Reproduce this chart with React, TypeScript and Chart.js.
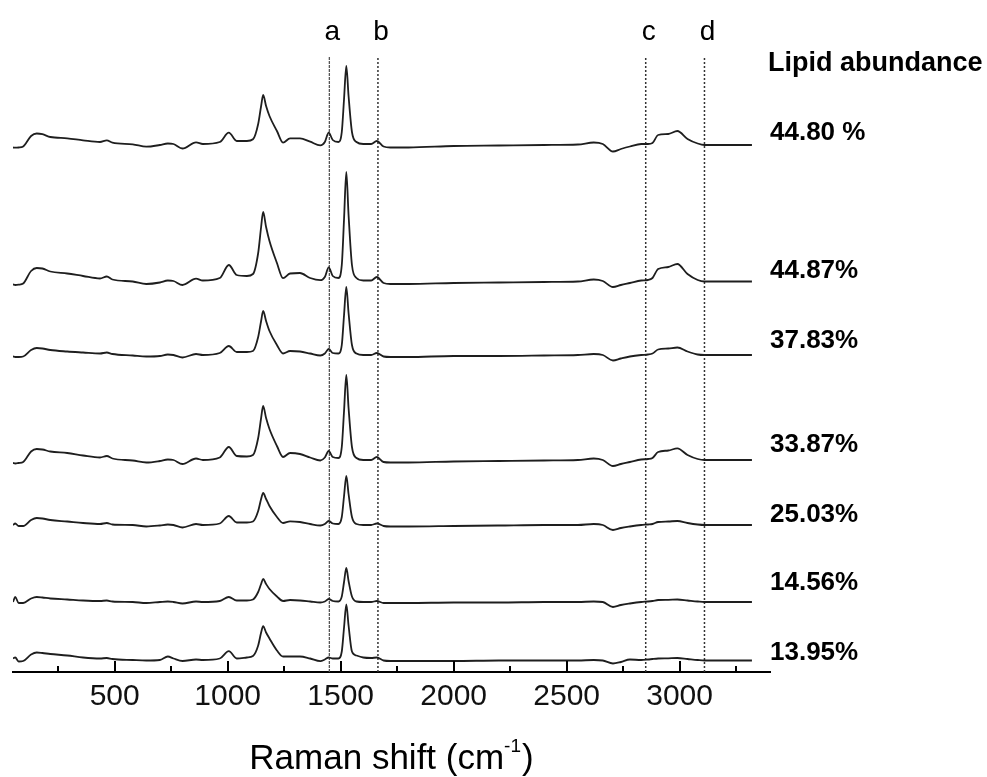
import { useEffect, useRef } from "react";
import { Chart, registerables } from "chart.js";

Chart.register(...registerables);

// Raman shift (cm-1) sample positions
const shift = [50, 60, 75, 95, 130, 155, 180, 215, 290, 360, 435, 465, 490, 580, 640, 700, 735, 760, 800, 860, 890, 965, 1005, 1040, 1085, 1112, 1135, 1148, 1157, 1170, 1185, 1218, 1245, 1276, 1320, 1365, 1410, 1430, 1447, 1465, 1490, 1505, 1515, 1525, 1535, 1550, 1570, 1600, 1635, 1660, 1690, 1720, 1800, 2000, 2200, 2400, 2550, 2620, 2660, 2705, 2740, 2780, 2830, 2860, 2880, 2905, 2950, 2990, 3035, 3080, 3110, 3200, 3320];

// Intensities (a.u.) of each spectrum, relative to its own baseline
const lipid4480 = [-3.5, -3.7, -3.5, -2.5, 8, 10.5, 9.8, 7, 5.7, 3.7, 2, 3.7, 1.3, -0.3, -2.7, -1, 0.5, 0, -4.5, 1.7, 0, 2, 11.3, 3, 3, 4.7, 20, 38, 49, 38, 28, 13, 1.3, 5.7, 5.7, 2.3, -1.3, 2, 11.3, 4, 2, 12, 45, 78, 48, 12, 2, 0, 0, 3, -2.5, -3.5, -3.5, -2, -1.5, -1, -0.5, 1.5, 0, -7.5, -5, -2.5, 0, 0, 1, 9, 10, 13, 5, 0.5, -1, -1, -1];
const lipid4487 = [-3.5, -4, -3.7, -2.5, 10, 13, 12.5, 9.5, 7.5, 5, 2.5, 4.5, 1.5, -0.5, -3, -1.5, 0.5, 0, -4, 2.3, 0.5, 3, 16, 6, 5, 7, 28, 54, 69, 54, 40, 18, 2.8, 7.5, 8, 3, 0.8, 4, 13.7, 5, 3, 16, 62, 109, 66, 16, 3, 0.5, 0.5, 4, -2, -3, -3, -2, -1.5, -1, -0.5, 1.5, 0, -6, -4, -2, 0.5, 1, 3, 12, 14, 17, 7, 1, -0.5, -0.5, -0.5];
const lipid3783 = [-1.5, -2, -2, -1.5, 5, 7, 6.5, 5, 3.5, 2.5, 1.5, 2.5, 1, -0.5, -1.5, -1, 0.5, 0, -2.5, 1, 0, 2, 9, 3, 3, 4, 18, 34, 44, 34, 24, 10, 1.5, 4, 3.5, 1.5, -0.5, 1.5, 6, 2, 1.5, 10, 40, 68, 42, 10, 1.5, 0, 0, 2, -1.5, -2, -2, -1, -1, -0.5, 0, 1, 0, -5.5, -3.5, -1.5, 0, 0.5, 1.5, 5.5, 6.5, 7.5, 3.5, 0.5, 0, 0, 0];
const lipid3387 = [-3, -3.5, -3, -2, 8.5, 11, 10.5, 8.5, 7, 4.5, 2.5, 4, 1.5, -0.5, -2.5, -1, 0.5, 0, -4, 1.5, 0, 2.5, 13, 4, 3.5, 5, 22, 42, 54, 42, 31, 14, 3, 7, 6, 2.5, -0.5, 2.5, 9, 3, 2, 13, 49, 85, 52, 13, 2, 0, 0, 3, -2, -2.5, -2.5, -1.5, -1, -0.5, 0, 1.5, 0, -6, -4, -2, 0.5, 1, 2, 8, 9.5, 11.6, 5, 1, 0, 0, 0];
const lipid2503 = [0, 1.5, -1, -1, 5, 7, 6.5, 5, 3.5, 2, 1, 2, 0.5, 0, -1.5, -0.5, 0.5, 0, -2.5, 1, 0, 1.5, 9, 2.5, 2.5, 3.5, 14, 26, 32, 26, 19, 8, 2, 3.7, 3, 1, -0.5, 1, 4, 1.5, 1, 8, 29, 49, 31, 8, 1, 0, 0, 1.5, -1, -1.5, -1.5, -1, -0.5, 0, 0, 1, 0, -5, -3, -1.5, 0, 0.5, 1, 3, 3.5, 4, 2, 0.5, 0, 0, 0];
const lipid1456 = [0, 5, -1, -1, 3.5, 5, 4.5, 3.5, 2.5, 1.5, 1, 1.5, 0.5, 0, -1, 0, 0.5, 0, -1.5, 0.5, 0, 1, 5, 1.5, 1.5, 2.5, 10, 18, 23, 18, 13, 5.5, 1, 2, 1.5, 0.5, -0.5, 0.5, 3, 1, 0.5, 5.5, 20, 34, 21, 5.5, 0.5, 0, 0, 1, -1, -1, -1, -0.5, -0.5, 0, 0, 0.5, 0, -5, -3, -1.5, 0, 0.5, 1, 2, 2.2, 2.5, 1.5, 0.5, 0, 0, 0];
const lipid1395 = [2, 3, -1, -0.5, 6, 8, 7.5, 6.5, 5, 3, 2, 2.5, 1.5, 0.5, 0, 0.5, 4, 2, -0.5, 1, 0.5, 2, 9.4, 2, 3, 4.5, 15, 28, 34.4, 28, 22, 10, 4, 4, 4, 2, -0.6, 1, 3, 2, 2, 9, 33, 56, 35, 9, 5, 3, 2.5, 3, 0, -0.5, -0.5, -0.5, 0, 0, 0, 0.5, 0, -3, -1.5, 1, 0.5, 1, 1.5, 2, 2.2, 2.5, 1.5, 0.5, 0, 0, 0];

const seriesLabels = ["44.80 %", "44.87%", "37.83%", "33.87%", "25.03%", "14.56%", "13.95%"];
// vertical stacking offset of each spectrum (a.u.)
const stackOffsets = [528, 391, 317, 212, 147, 70, 11.5];

const markerNames = ["a", "b", "c", "d"];
const markerShifts = [1450, 1665, 2850, 3110];

const majorTicks = [500, 1000, 1500, 2000, 2500, 3000];
const minorTicks = [250, 750, 1250, 1750, 2250, 2750, 3250];

const FONT = '"Liberation Sans", Arial, Helvetica, sans-serif';

// layout: where the right-hand labels sit (in y units) and top of marker lines
const labelLevels = [539.3, 400.7, 331.4, 227.4, 157.1, 89, 19.5];
const MARKER_TOP = 615;

export default function App() {
  const ref = useRef<HTMLCanvasElement | null>(null);

  useEffect(() => {
    document.body.style.margin = "0";
    const canvas = ref.current;
    if (!canvas) return;

    const series = [lipid4480, lipid4487, lipid3783, lipid3387, lipid2503, lipid1456, lipid1395];

    const spectra = series.map((vals, k) => ({
      type: "line" as const,
      label: seriesLabels[k],
      data: shift.map((x, i) => ({ x, y: stackOffsets[k] + vals[i] })),
      borderColor: "#1e1e1e",
      borderWidth: 1.8,
      pointRadius: 0,
      fill: false,
      cubicInterpolationMode: "monotone" as const,
    }));

    const markers = markerShifts.map((x, j) => ({
      type: "line" as const,
      label: markerNames[j],
      data: [
        { x, y: 0 },
        { x, y: MARKER_TOP },
      ],
      borderColor: j === 0 ? "#555" : "#333",
      borderWidth: j === 0 ? 1.3 : 1.5,
      borderDash: j === 0 ? [3, 1] : [2, 2],
      pointRadius: 0,
      fill: false,
    }));

    const overlay = {
      id: "overlay",
      afterDraw(chart: any) {
        const { ctx, chartArea, scales } = chart;
        const xs = scales.x;
        const ys = scales.y;
        ctx.save();
        // inward tick marks
        ctx.strokeStyle = "#000";
        ctx.lineWidth = 2;
        const base = chartArea.bottom;
        const drawTick = (v: number, len: number) => {
          const px = Math.round(xs.getPixelForValue(v));
          ctx.beginPath();
          ctx.moveTo(px, base);
          ctx.lineTo(px, base - len);
          ctx.stroke();
        };
        majorTicks.forEach((v) => drawTick(v, 11));
        minorTicks.forEach((v) => drawTick(v, 6));

        // band letters
        ctx.fillStyle = "#000";
        ctx.font = `28px ${FONT}`;
        ctx.textAlign = "center";
        ctx.textBaseline = "alphabetic";
        markerNames.forEach((n, j) => {
          ctx.fillText(n, xs.getPixelForValue(markerShifts[j]) + 3, 40);
        });

        // right-hand labels
        ctx.textAlign = "left";
        ctx.textBaseline = "middle";
        ctx.font = `bold 27px ${FONT}`;
        ctx.fillText("Lipid abundance", chartArea.right - 2, 64);
        ctx.font = `bold 26px ${FONT}`;
        seriesLabels.forEach((t, k) => {
          ctx.fillText(t, chartArea.right, ys.getPixelForValue(labelLevels[k]));
        });

        // axis title with superscript
        const mainFont = `35px ${FONT}`;
        const supFont = `19px ${FONT}`;
        const p1 = "Raman shift (cm";
        const p2 = "-1";
        const p3 = ")";
        ctx.font = mainFont;
        const w1 = ctx.measureText(p1).width;
        const w3 = ctx.measureText(p3).width;
        ctx.font = supFont;
        const w2 = ctx.measureText(p2).width;
        const total = w1 + w2 + w3 + 1;
        const cx = (chartArea.left + chartArea.right) / 2;
        let tx = cx - total / 2;
        const baseY = 769;
        ctx.textAlign = "left";
        ctx.textBaseline = "alphabetic";
        ctx.font = mainFont;
        ctx.fillText(p1, tx, baseY);
        tx += w1;
        ctx.font = supFont;
        ctx.fillText(p2, tx, baseY - 17);
        tx += w2 + 1;
        ctx.font = mainFont;
        ctx.fillText(p3, tx, baseY);
        ctx.restore();
      },
    };

    const chart = new Chart(canvas, {
      type: "line",
      data: { datasets: [...spectra, ...markers] as any },
      options: {
        animation: false,
        responsive: false,
        maintainAspectRatio: false,
        devicePixelRatio: 1,
        parsing: false as any,
        normalized: true,
        layout: { padding: { left: 13, right: 217, top: 0, bottom: 0 } },
        plugins: {
          legend: { display: false },
          tooltip: { enabled: false },
          title: { display: false },
        },
        elements: { line: { tension: 0 } },
        scales: {
          x: {
            type: "linear",
            position: "bottom",
            min: 50,
            max: 3400,
            grid: { display: false, drawTicks: false },
            border: { display: true, color: "#000", width: 2 },
            ticks: {
              autoSkip: false,
              maxRotation: 0,
              padding: 7,
              color: "#111",
              font: { family: FONT, size: 30 },
              callback: (v: any) => String(v),
            },
            afterBuildTicks: (scale: any) => {
              scale.ticks = majorTicks.map((value) => ({ value }));
            },
            afterFit: (scale: any) => {
              scale.height = 105;
            },
          },
          y: {
            type: "linear",
            display: false,
            min: 0,
            max: 672,
          },
        },
      },
      plugins: [overlay],
    });

    return () => chart.destroy();
  }, []);

  return (
    <div style={{ position: "absolute", left: 0, top: 0, width: 987, height: 777, background: "#fff" }}>
      <canvas ref={ref} width={987} height={777} style={{ display: "block", width: 987, height: 777 }} />
    </div>
  );
}
